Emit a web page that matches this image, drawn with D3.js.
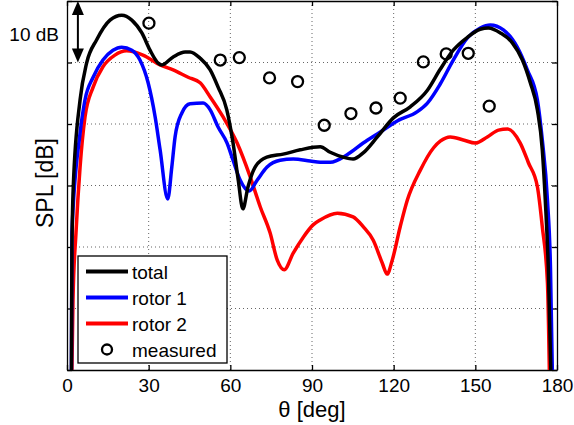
<!DOCTYPE html>
<html>
<head>
<meta charset="utf-8">
<script src="https://cdn.jsdelivr.net/npm/d3@7"></script>
<style>
  html, body { margin: 0; padding: 0; background: #fff; }
  svg { display: block; font-family: "Liberation Sans", Arial, sans-serif; }
  .grid line { stroke: #666; stroke-width: 1; stroke-dasharray: 1 3; }
</style>
</head>
<body>
<div id="chart"></div>
<script>
// ---- data: [theta deg, SPL dB] ----
const totalCurve = [
  [1.6, -3], [1.8, 19.5], [2.3, 29.8], [4.8, 43.9], [7.2, 49.9], [10.9, 53.7], [15.8, 56.9],
  [20.1, 57.7], [23.8, 56.9], [27.5, 54.8], [30.5, 52.0], [33.5, 49.9], [34.8, 49.6],
  [39.0, 50.9], [43.4, 51.7], [45.2, 51.7], [48.9, 50.7], [52.6, 48.8], [55.5, 46.0],
  [58.7, 42.3], [61.0, 36.9], [62.9, 30.9], [64.6, 26.2], [66.5, 29.8], [69.1, 33.0],
  [73.4, 34.6], [79.4, 35.1], [85.7, 35.8], [93.0, 36.3], [96.7, 35.4], [101.5, 34.6],
  [105.1, 34.3], [108.8, 35.3], [114.0, 37.9], [119.9, 41.0], [126.1, 42.8], [132.4, 45.5],
  [137.1, 48.9], [141.9, 52.0], [147.1, 54.1], [151.8, 55.4], [154.8, 55.6], [159.2, 54.8],
  [163.6, 53.2], [167.3, 50.4], [170.2, 46.7], [172.8, 42.3], [174.6, 35.8], [175.7, 27.6],
  [176.8, 16.7], [177.9, -3]
];
const rotor1Curve = [
  [1.6, -3], [1.8, 22.3], [4.8, 38.5], [6.6, 43.9], [9.6, 47.6], [13.2, 50.4], [16.9, 52.0],
  [20.1, 52.5], [23.8, 52.0], [26.8, 50.4], [29.8, 46.7], [32.4, 41.1], [34.2, 35.8],
  [37.0, 27.8], [38.5, 33.0], [39.7, 37.9], [42.2, 41.8], [45.2, 43.3], [50.0, 43.4],
  [52.6, 42.3], [55.5, 39.5], [58.8, 36.9], [61.0, 34.1], [63.6, 30.9], [66.9, 29.1],
  [69.9, 30.9], [73.5, 33.0], [78.3, 34.1], [83.1, 34.3], [89.3, 34.0], [93.0, 33.8],
  [96.7, 33.8], [102.9, 35.0], [108.8, 36.9], [115.1, 38.7], [121.3, 40.5], [128.7, 42.0],
  [132.4, 43.4], [137.1, 46.5], [141.9, 50.4], [147.1, 54.0], [151.8, 55.6], [155.5, 56.1],
  [160.3, 55.3], [165.4, 52.5], [169.1, 48.8], [172.8, 43.9], [174.6, 37.4], [176.5, 27.6],
  [177.6, 16.7], [178.4, -3]
];
const rotor2Curve = [
  [1.7, -3], [2.2, 11.4], [3.3, 22.3], [4.8, 33.0], [6.6, 41.1], [9.6, 46.0], [13.2, 49.3],
  [17.6, 51.2], [21.9, 51.9], [27.9, 51.2], [34.2, 49.6], [39.0, 48.8], [44.5, 47.6],
  [48.9, 46.7], [52.6, 44.4], [57.4, 41.1], [62.5, 36.9], [67.3, 31.4], [71.0, 26.5],
  [74.6, 22.3], [77.2, 17.9], [79.8, 16.3], [83.1, 19.0], [86.8, 21.6], [90.4, 23.6],
  [93.0, 24.4], [99.3, 25.5], [105.1, 24.9], [108.8, 23.3], [112.5, 21.1], [115.8, 17.4],
  [117.6, 15.6], [119.5, 17.9], [122.4, 23.3], [125.0, 27.6], [129.8, 32.5], [134.6, 36.1],
  [137.1, 37.2], [140.8, 37.9], [145.6, 37.4], [150.0, 36.9], [154.4, 37.9], [158.5, 39.0],
  [161.8, 39.2], [166.5, 36.9], [169.5, 33.7], [172.8, 29.8], [174.6, 23.3], [176.5, 14.1],
  [177.3, -3]
];
const measuredTheta = [30.1, 56.3, 63.3, 74.4, 84.7, 94.5, 104.3, 113.5, 122.4, 130.9, 139.3, 147.4, 155.1];
const measuredSpl   = [56.4, 50.4, 50.8, 47.5, 46.9, 39.8, 41.7, 42.6, 44.2, 50.1, 51.4, 51.5, 42.9];

const xTicks = [0, 30, 60, 90, 120, 150, 180];
const yTicks = [0, 10, 20, 30, 40, 50, 60];
const legendItems = ['total', 'rotor 1', 'rotor 2', 'measured'];
const COLORS = { total: '#000000', 'rotor 1': '#0000ff', 'rotor 2': '#ff0000', measured: '#000000' };

// ---- layout ----
const W = 574, H = 425;
const M = { top: 1, right: 17, bottom: 55, left: 67 };
const iw = W - M.left - M.right, ih = H - M.top - M.bottom;
const FONT = 19, LABEL_FONT = 22;

const svg = d3.select('#chart').append('svg').attr('width', W).attr('height', H);
const g = svg.append('g').attr('transform', `translate(${M.left},${M.top})`);

const x = d3.scaleLinear().domain([0, 180]).range([0, iw]);
const y = d3.scaleLinear().domain([0, 60]).range([ih, 0]);

svg.append('defs').append('clipPath').attr('id', 'clip')
  .append('rect').attr('width', iw).attr('height', ih);

// dotted grid
const grid = g.append('g').attr('class', 'grid');
grid.selectAll('line.gx').data(xTicks.slice(1, -1)).join('line').attr('class', 'gx')
  .attr('x1', d => x(d)).attr('x2', d => x(d)).attr('y1', 0).attr('y2', ih);
grid.selectAll('line.gy').data(yTicks.slice(1, -1)).join('line').attr('class', 'gy')
  .attr('y1', d => y(d)).attr('y2', d => y(d)).attr('x1', 0).attr('x2', iw);

// axes, ticks inside (matlab style)
const axB = g.append('g').attr('transform', `translate(0,${ih})`)
  .call(d3.axisBottom(x).tickValues(xTicks).tickSizeInner(-5).tickSizeOuter(0).tickPadding(9));
const axT = g.append('g')
  .call(d3.axisTop(x).tickValues(xTicks).tickSizeInner(-5).tickSizeOuter(0).tickFormat(''));
const axL = g.append('g')
  .call(d3.axisLeft(y).tickValues(yTicks).tickSizeInner(-5).tickSizeOuter(0).tickFormat(''));
const axR = g.append('g').attr('transform', `translate(${iw},0)`)
  .call(d3.axisRight(y).tickValues(yTicks).tickSizeInner(-5).tickSizeOuter(0).tickFormat(''));
[axB, axT, axL, axR].forEach(a => {
  a.selectAll('path,line').attr('stroke', '#000').attr('stroke-width', 1.3);
  a.selectAll('text').attr('fill', '#000').style('font-size', FONT + 'px')
    .style('font-family', '"Liberation Sans", Arial, sans-serif');
});

// curves
const line = d3.line().curve(d3.curveMonotoneX).x(d => x(d[0])).y(d => y(d[1]));
const plot = g.append('g').attr('clip-path', 'url(#clip)');
[['rotor 2', rotor2Curve], ['rotor 1', rotor1Curve], ['total', totalCurve]].forEach(([k, data]) => {
  plot.append('path').datum(data)
    .attr('fill', 'none').attr('stroke', COLORS[k]).attr('stroke-width', 3.5)
    .attr('stroke-linejoin', 'round').attr('d', line);
});

// measured points
g.selectAll('circle.meas').data(measuredTheta).join('circle').attr('class', 'meas')
  .attr('cx', d => x(d)).attr('cy', (d, i) => y(measuredSpl[i])).attr('r', 5.5)
  .attr('fill', 'none').attr('stroke', '#000').attr('stroke-width', 2.3);

// 10 dB scale arrow
const ax0 = x(4);
g.append('line').attr('x1', ax0).attr('x2', ax0).attr('y1', y(60) + 8).attr('y2', y(50) - 8)
  .attr('stroke', '#000').attr('stroke-width', 2);
g.append('path').attr('d', `M${ax0},${y(60)} l-6,14 h12 Z`).attr('fill', '#000');
g.append('path').attr('d', `M${ax0},${y(50)} l-6,-14 h12 Z`).attr('fill', '#000');
svg.append('text').attr('x', 59).attr('y', 41).attr('text-anchor', 'end')
  .style('font-size', FONT + 'px').text('10 dB');

// axis labels
svg.append('text').attr('x', 312).attr('y', 417).attr('text-anchor', 'middle')
  .style('font-size', LABEL_FONT + 'px').text('θ [deg]');
svg.append('text').attr('transform', 'translate(53,183) rotate(-90)')
  .attr('text-anchor', 'middle').style('font-size', '23px').text('SPL [dB]');

// legend
const lg = svg.append('g').attr('transform', 'translate(78,256)');
lg.append('rect').attr('width', 149).attr('height', 107)
  .attr('fill', '#fff').attr('stroke', '#000').attr('stroke-width', 1.3);
legendItems.forEach((k, i) => {
  const cy = 15.5 + i * 26;
  if (k === 'measured') {
    lg.append('circle').attr('cx', 29).attr('cy', cy).attr('r', 5)
      .attr('fill', 'none').attr('stroke', '#000').attr('stroke-width', 2.3);
  } else {
    lg.append('line').attr('x1', 8).attr('x2', 50).attr('y1', cy).attr('y2', cy)
      .attr('stroke', COLORS[k]).attr('stroke-width', 4);
  }
  lg.append('text').attr('x', 54).attr('y', cy + 7).style('font-size', FONT + 'px').text(k);
});
</script>
</body>
</html>
